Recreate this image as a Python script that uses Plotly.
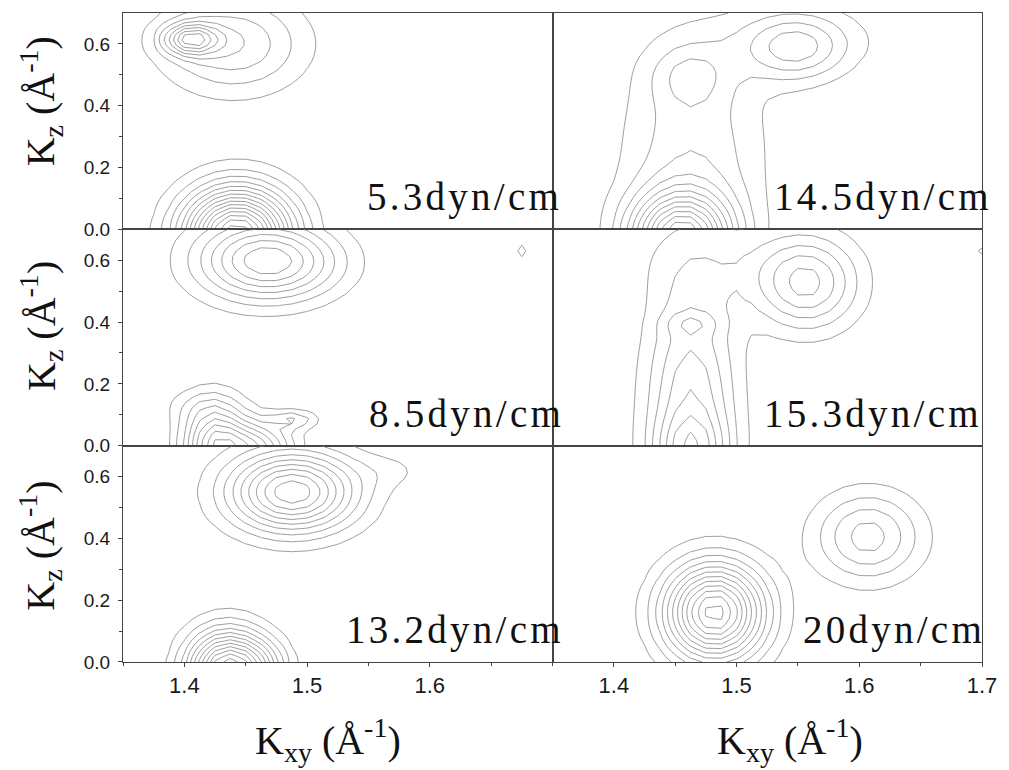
import numpy as np
import plotly.graph_objects as go
from plotly.subplots import make_subplots

# ---------------- data ----------------
# sampling grid of the measured maps
kxy = np.round(np.arange(1.35, 1.70001, 0.0125), 5)   # K_xy (1/Å)
kz = np.round(np.arange(0.0, 0.70001, 0.0175), 5)     # K_z  (1/Å)

panel_labels = ["5.3dyn/cm", "14.5dyn/cm", "8.5dyn/cm",
                "15.3dyn/cm", "13.2dyn/cm", "20dyn/cm"]

# intensity peaks estimated per map: (Kxy0, Kz0, width_xy, width_z, height)
peaks_5_3 = [(1.405, 0.615, 0.015, 0.035, 6.5),
             (1.440, 0.600, 0.040, 0.110, 4.0),
             (1.443, -0.020, 0.030, 0.105, 16.0)]
peaks_14_5 = [(1.455, -0.030, 0.028, 0.100, 12.0),
              (1.465, 0.250, 0.040, 0.250, 2.8),
              (1.462, 0.500, 0.022, 0.070, 1.9),
              (1.548, 0.585, 0.028, 0.075, 3.6),
              (1.550, 0.620, 0.050, 0.080, 1.2)]
peaks_8_5 = [(1.465, 0.600, 0.038, 0.090, 7.5),
             (1.500, 0.580, 0.030, 0.070, 0.8),
             (1.675, 0.630, 0.006, 0.025, 1.3),
             (1.425, 0.000, 0.018, 0.095, 8.0),
             (1.460, -0.010, 0.020, 0.060, 6.0),
             (1.410, 0.130, 0.020, 0.040, 1.0),
             (1.490, 0.085, 0.013, 0.022, 2.6)]
peaks_15_3 = [(1.463, 0.120, 0.025, 0.280, 5.0),
              (1.463, -0.020, 0.020, 0.080, 3.0),
              (1.463, 0.395, 0.015, 0.025, 1.3),
              (1.557, 0.525, 0.029, 0.105, 5.2),
              (1.490, 0.600, 0.050, 0.100, 1.0),
              (1.700, 0.630, 0.008, 0.020, 1.2)]
peaks_13_2 = [(1.488, 0.550, 0.036, 0.090, 9.8),
              (1.570, 0.620, 0.020, 0.040, 0.9),
              (1.435, -0.030, 0.022, 0.090, 13.0),
              (1.465, -0.010, 0.015, 0.060, 2.5)]
peaks_20 = [(1.482, 0.160, 0.028, 0.110, 12.5),
            (1.607, 0.405, 0.030, 0.100, 4.5)]

panel_peaks = [peaks_5_3, peaks_14_5, peaks_8_5, peaks_15_3, peaks_13_2, peaks_20]

x_ticks = [1.4, 1.5, 1.6, 1.7]
x_minor = [1.35, 1.45, 1.55, 1.65]
y_ticks = [0.0, 0.2, 0.4, 0.6]
y_minor = [0.1, 0.3, 0.5]

# ---------------- figure ----------------
W, H = 1009, 770
ML, MR, MT, MB = 123, 22, 12, 108

fig = make_subplots(rows=3, cols=2, horizontal_spacing=0, vertical_spacing=0)

X, Y = np.meshgrid(kxy, kz)

def intensity(peaks):
    z = np.zeros_like(X)
    for (x0, y0, sx, sy, a) in peaks:
        z += a * np.exp(-0.5 * (((X - x0) / sx) ** 2 + ((Y - y0) / sy) ** 2))
    return z

LINE = "#444444"
serif = "Liberation Serif, Times New Roman, serif"
sans = "Liberation Sans, Arial, sans-serif"

for i, peaks in enumerate(panel_peaks):
    r, c = i // 2 + 1, i % 2 + 1
    fig.add_trace(go.Contour(
        x=kxy, y=kz, z=intensity(peaks),
        contours=dict(start=1, end=30, size=1, coloring="none", showlabels=False),
        line=dict(color="#808080", width=0.8, smoothing=0),
        showscale=False, hoverinfo="skip"), row=r, col=c)

    bottom = (r == 3)
    left = (c == 1)
    xt = (x_ticks[:3] if left else x_ticks) if bottom else []
    fig.update_xaxes(
        range=[1.35, 1.70], showline=True, mirror=True, linecolor=LINE, linewidth=1,
        showgrid=False, zeroline=False,
        tickvals=xt, ticktext=[f"{v:.1f}" for v in xt],
        ticks="outside" if bottom else "", ticklen=4, tickcolor=LINE,
        showticklabels=bottom,
        tickfont=dict(family=sans, size=22, color="#1a1a1a"),
        minor=dict(tickvals=x_minor if bottom else [], ticks="outside" if bottom else "",
                   ticklen=3, tickcolor=LINE),
        row=r, col=c)
    fig.update_yaxes(
        range=[0, 0.70], showline=True, mirror=True, linecolor=LINE, linewidth=1,
        showgrid=False, zeroline=False,
        tickvals=y_ticks if left else [],
        ticktext=[f"{v:.1f}" for v in y_ticks] if left else [],
        ticks="outside" if left else "", ticklen=4, tickcolor=LINE,
        showticklabels=left, ticklabelstandoff=4,
        tickfont=dict(family=sans, size=19, color="#1a1a1a"),
        minor=dict(tickvals=y_minor if left else [], ticks="outside" if left else "",
                   ticklen=3, tickcolor=LINE),
        row=r, col=c)

pw, ph = W - ML - MR, H - MT - MB
def px2paper(px, py):
    return (px - ML) / pw, (H - MB - py) / ph

# panel labels (right edge in px, per panel)
label_right = [564, 996, 566, 986, 566, 989]
for i, lab in enumerate(panel_labels):
    r, c = i // 2 + 1, i % 2 + 1
    py_bottom = MT + r * ph / 3
    xp, yp = px2paper(label_right[i], py_bottom - 32)
    fig.add_annotation(
        x=xp, y=yp, xref="paper", yref="paper", xanchor="right", yanchor="middle",
        text="\u200a".join(list(lab)), showarrow=False,
        font=dict(family=serif, size=39, color="#111111"))

# axis titles
for py in [100, 325, 545]:
    xp, yp = px2paper(40, py)
    fig.add_annotation(x=xp, y=yp, xref="paper", yref="paper", textangle=-90,
                       xanchor="center", yanchor="middle", showarrow=False,
                       text="K<sub>z</sub> (Å<sup>-1</sup>)",
                       font=dict(family=serif, size=40, color="#111111"))
for pxc in [329, 794]:
    xp, yp = px2paper(pxc, 740)
    fig.add_annotation(x=xp, y=yp, xref="paper", yref="paper",
                       xanchor="center", yanchor="middle", showarrow=False,
                       text="K<sub>xy</sub> (Å<sup>-1</sup>)",
                       font=dict(family=serif, size=40, color="#111111"))

fig.update_layout(
    width=W, height=H, margin=dict(l=ML, r=MR, t=MT, b=MB),
    paper_bgcolor="white", plot_bgcolor="white", showlegend=False)

fig.write_html("out.html")
